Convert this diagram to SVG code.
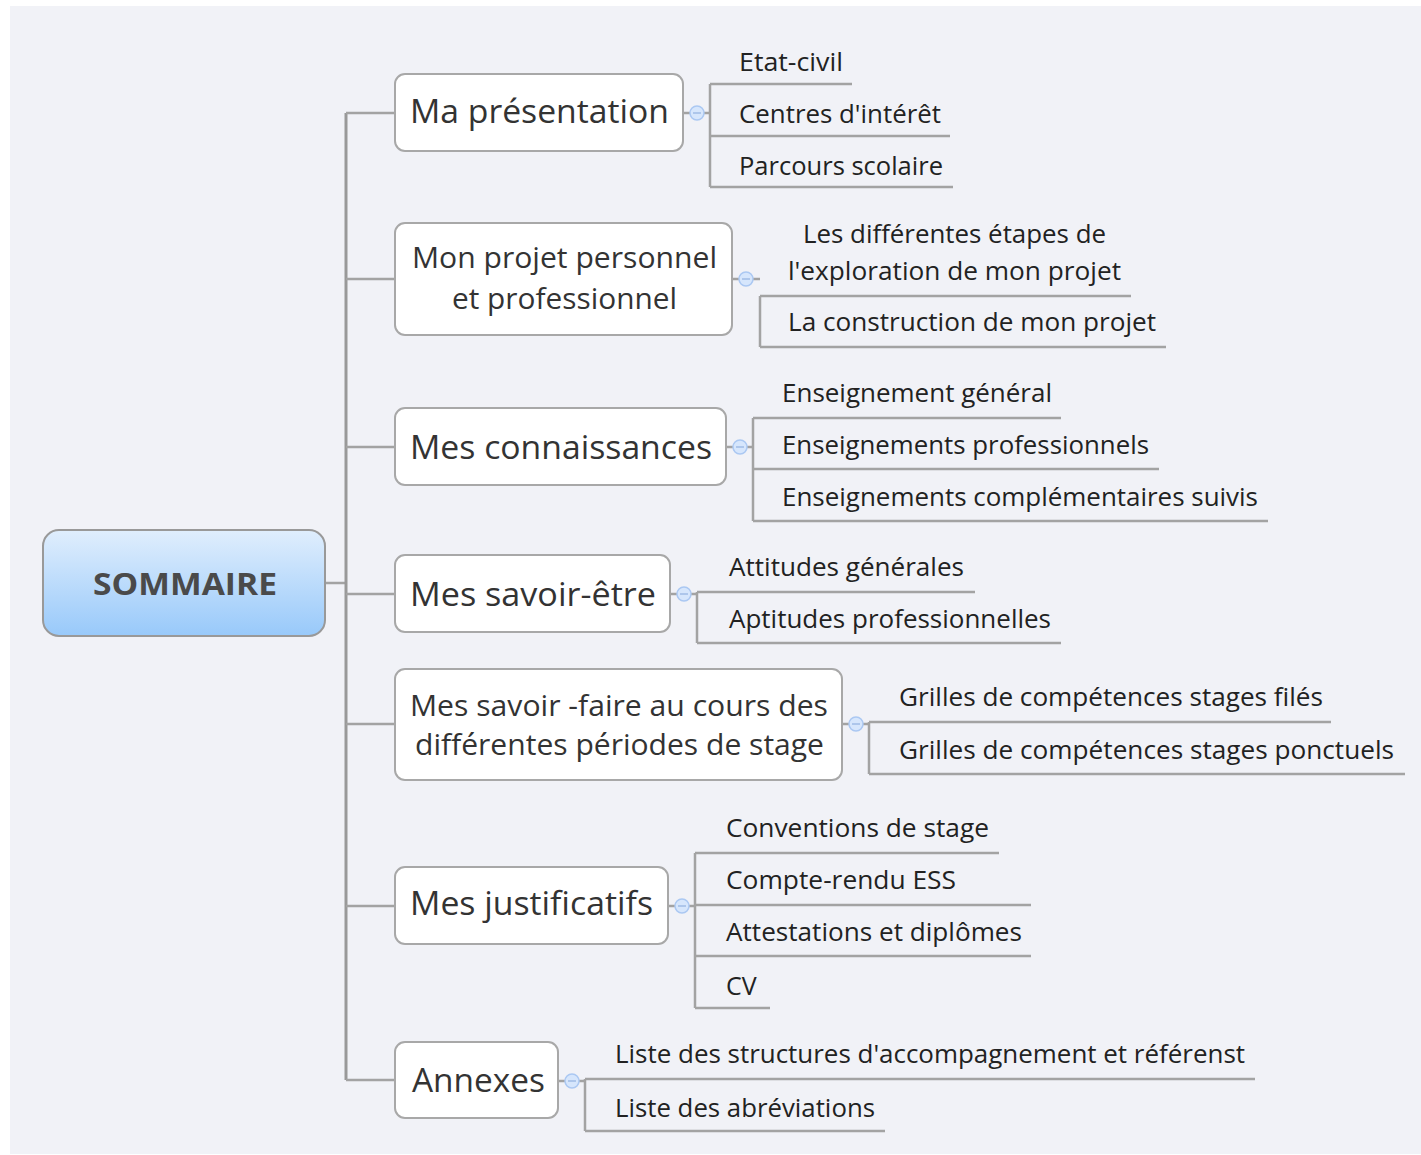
<svg xmlns="http://www.w3.org/2000/svg" width="1421" height="1155" viewBox="0 0 1421 1155">
<defs>
<linearGradient id="rootGrad" x1="0" y1="0" x2="0" y2="1">
<stop offset="0" stop-color="#e0eefd"/>
<stop offset="1" stop-color="#98c9fa"/>
</linearGradient>
</defs>
<style>
.bg{fill:#f1f2f7}
.box{fill:#ffffff;stroke:#a8a8a8;stroke-width:2}
.root{fill:url(#rootGrad);stroke:#999999;stroke-width:2}
.ln{fill:none;stroke:#a3a3a3;stroke-width:2.5}
.trunk{fill:none;stroke:#999999;stroke-width:3}
.tog{fill:#d6e6fc;stroke:#abc8f2;stroke-width:1.5}
.togm{stroke:#9fbbe6;stroke-width:1.5}
.t1{font-family:"Open Sans","Noto Sans",sans-serif;font-size:32.5px;fill:#333333}
.t1s{font-family:"Open Sans","Noto Sans",sans-serif;font-size:28.5px;fill:#333333}
.t2{font-family:"Open Sans","Noto Sans",sans-serif;font-size:25px;fill:#222222}
.rt{font-family:"Open Sans","Noto Sans",sans-serif;font-size:31px;font-weight:bold;fill:#4a4a4a}
</style>
<rect class="bg" x="10" y="6" width="1411" height="1148"/>
<g id="connectors">
<path class="ln" d="M325,583 H346"/>
<path class="trunk" d="M346,113 V1080"/>
<path class="ln" d="M346,113 H395 M346,279 H395 M346,447 H395 M346,594 H395 M346,724 H395 M346,906 H395 M346,1080 H395"/>
<path class="ln" d="M683,113 H690 M704,113 H710 M710,84 V187 M710,84 H852 M710,136 H950 M710,187 H953"/>
<path class="ln" d="M732,279 H739 M753,279 H760 M760,296 V347 M760,296 H1131 M760,347 H1166"/>
<path class="ln" d="M726,447 H733 M747,447 H753 M753,418 V521 M753,418 H1061 M753,469 H1159 M753,521 H1268"/>
<path class="ln" d="M670,594 H677 M691,594 H697 M697,592 V643 M697,592 H975 M697,643 H1061"/>
<path class="ln" d="M842,724 H849 M863,724 H869 M869,722 V774 M869,722 H1331 M869,774 H1405"/>
<path class="ln" d="M668,906 H675 M689,906 H695 M695,853 V1008 M695,853 H999 M695,905 H1031 M695,956 H1031 M695,1008 H770"/>
<path class="ln" d="M558,1081 H565 M579,1081 H585 M585,1079 V1131 M585,1079 H1255 M585,1131 H885"/>
</g>
<g id="root">
<rect class="root" x="43" y="530" width="282" height="106" rx="16"/>
<text class="rt" x="185" y="595" text-anchor="middle" textLength="184" lengthAdjust="spacingAndGlyphs">SOMMAIRE</text>
</g>
<g id="n1">
<rect class="box" x="395" y="74" width="288" height="77" rx="10"/>
<text class="t1" x="410" y="123" textLength="259" lengthAdjust="spacingAndGlyphs">Ma présentation</text>
<circle class="tog" cx="697" cy="113" r="7"/><path class="togm" d="M693,113 H701"/>
</g>
<g id="n2">
<rect class="box" x="395" y="223" width="337" height="112" rx="10"/>
<text class="t1s" x="412" y="268" textLength="305" lengthAdjust="spacingAndGlyphs">Mon projet personnel</text>
<text class="t1s" x="452" y="309" textLength="225" lengthAdjust="spacingAndGlyphs">et professionnel</text>
<circle class="tog" cx="746" cy="279" r="7"/><path class="togm" d="M742,279 H750"/>
</g>
<g id="n3">
<rect class="box" x="395" y="408" width="331" height="77" rx="10"/>
<text class="t1" x="410" y="459" textLength="302" lengthAdjust="spacingAndGlyphs">Mes connaissances</text>
<circle class="tog" cx="740" cy="447" r="7"/><path class="togm" d="M736,447 H744"/>
</g>
<g id="n4">
<rect class="box" x="395" y="555" width="275" height="77" rx="10"/>
<text class="t1" x="410" y="606" textLength="246" lengthAdjust="spacingAndGlyphs">Mes savoir-être</text>
<circle class="tog" cx="684" cy="594" r="7"/><path class="togm" d="M680,594 H688"/>
</g>
<g id="n5">
<rect class="box" x="395" y="669" width="447" height="111" rx="10"/>
<text class="t1s" x="410" y="716" textLength="418" lengthAdjust="spacingAndGlyphs">Mes savoir -faire au cours des</text>
<text class="t1s" x="415" y="755" textLength="409" lengthAdjust="spacingAndGlyphs">différentes périodes de stage</text>
<circle class="tog" cx="856" cy="724" r="7"/><path class="togm" d="M852,724 H860"/>
</g>
<g id="n6">
<rect class="box" x="395" y="867" width="273" height="77" rx="10"/>
<text class="t1" x="410" y="915" textLength="243" lengthAdjust="spacingAndGlyphs">Mes justificatifs</text>
<circle class="tog" cx="682" cy="906" r="7"/><path class="togm" d="M678,906 H686"/>
</g>
<g id="n7">
<rect class="box" x="395" y="1042" width="163" height="76" rx="10"/>
<text class="t1" x="412" y="1092" textLength="133" lengthAdjust="spacingAndGlyphs">Annexes</text>
<circle class="tog" cx="572" cy="1081" r="7"/><path class="togm" d="M568,1081 H576"/>
</g>
<g id="leaves">
<text class="t2" x="739" y="71" textLength="104" lengthAdjust="spacingAndGlyphs">Etat-civil</text>
<text class="t2" x="739" y="123" textLength="202" lengthAdjust="spacingAndGlyphs">Centres d'intérêt</text>
<text class="t2" x="739" y="175" textLength="204" lengthAdjust="spacingAndGlyphs">Parcours scolaire</text>
<text class="t2" x="803" y="243" textLength="303" lengthAdjust="spacingAndGlyphs">Les différentes étapes de</text>
<text class="t2" x="788" y="280" textLength="333" lengthAdjust="spacingAndGlyphs">l'exploration de mon projet</text>
<text class="t2" x="788" y="331" textLength="368" lengthAdjust="spacingAndGlyphs">La construction de mon projet</text>
<text class="t2" x="782" y="402" textLength="270" lengthAdjust="spacingAndGlyphs">Enseignement général</text>
<text class="t2" x="782" y="454" textLength="367" lengthAdjust="spacingAndGlyphs">Enseignements professionnels</text>
<text class="t2" x="782" y="506" textLength="476" lengthAdjust="spacingAndGlyphs">Enseignements complémentaires suivis</text>
<text class="t2" x="729" y="576" textLength="235" lengthAdjust="spacingAndGlyphs">Attitudes générales</text>
<text class="t2" x="729" y="628" textLength="322" lengthAdjust="spacingAndGlyphs">Aptitudes professionnelles</text>
<text class="t2" x="899" y="706" textLength="424" lengthAdjust="spacingAndGlyphs">Grilles de compétences stages filés</text>
<text class="t2" x="899" y="759" textLength="495" lengthAdjust="spacingAndGlyphs">Grilles de compétences stages ponctuels</text>
<text class="t2" x="726" y="837" textLength="263" lengthAdjust="spacingAndGlyphs">Conventions de stage</text>
<text class="t2" x="726" y="889" textLength="230" lengthAdjust="spacingAndGlyphs">Compte-rendu ESS</text>
<text class="t2" x="726" y="941" textLength="296" lengthAdjust="spacingAndGlyphs">Attestations et diplômes</text>
<text class="t2" x="726" y="995">CV</text>
<text class="t2" x="615" y="1063" textLength="630" lengthAdjust="spacingAndGlyphs">Liste des structures d'accompagnement et référenst</text>
<text class="t2" x="615" y="1117" textLength="260" lengthAdjust="spacingAndGlyphs">Liste des abréviations</text>
</g>
</svg>
